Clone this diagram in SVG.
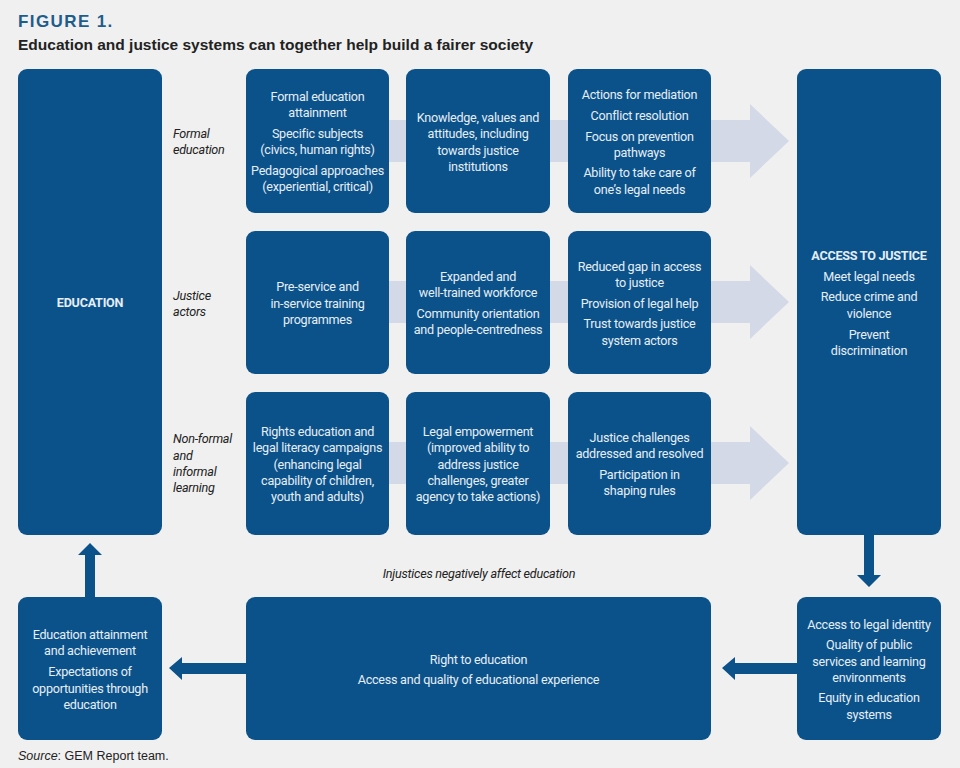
<svg xmlns="http://www.w3.org/2000/svg" width="960" height="768" viewBox="0 0 960 768">
<defs>
<style>
.bg{fill:#f0f0f0}
.box{fill:#0b528a}
.flow{fill:#d3d9e6}
.conn{fill:#0b528a}
.t{font-family:"Roboto","Liberation Sans",sans-serif;font-size:12.6px;letter-spacing:-0.25px;fill:#e6eef6;text-anchor:middle}
.b{font-weight:bold}
.lab{font-family:"Roboto","Liberation Sans",sans-serif;font-size:12.6px;letter-spacing:-0.25px;font-style:italic;fill:#222}
.src{font-family:"Liberation Sans","Roboto",sans-serif;font-size:12.5px;fill:#222}
</style>
</defs>
<rect class="bg" x="0" y="0" width="960" height="768"/>
<text x="18" y="27" font-family="Liberation Sans, Roboto, sans-serif" font-size="17" font-weight="bold" letter-spacing="1.4" fill="#1d5d8c">FIGURE 1.</text>
<text x="18" y="50" font-family="Liberation Sans, Roboto, sans-serif" font-size="15.5" font-weight="bold" fill="#222">Education and justice systems can together help build a fairer society</text>

<g id="flow-arrows">
<path class="flow" d="M380 120 H750 V104 L789 141 L750 178 V162 H380 Z"/>
<path class="flow" d="M380 281 H750 V265 L789 302 L750 339 V323 H380 Z"/>
<path class="flow" d="M380 442 H750 V426 L789 463 L750 500 V484 H380 Z"/>
</g>

<g id="connectors">
<path class="conn" d="M85 597 V555 H78 L90 543 L102 555 H95 V597 Z"/>
<path class="conn" d="M864 535 V575 H857 L869 587 L881 575 H874 V535 Z"/>
<path class="conn" d="M797 663 H735 V657 L722 668 L735 680 V674 H797 Z"/>
<path class="conn" d="M246 663 H182 V657 L169 668 L182 680 V674 H246 Z"/>
</g>

<g id="education">
<rect class="box" x="18" y="69" width="144" height="466" rx="9"/>
<text class="t b" x="90" y="307">EDUCATION</text>
</g>

<g id="row-labels">
<text class="lab" x="173"><tspan x="173" y="138">Formal</tspan><tspan x="173" y="154">education</tspan></text>
<text class="lab" x="173"><tspan x="173" y="300">Justice</tspan><tspan x="173" y="316">actors</tspan></text>
<text class="lab" x="173"><tspan x="173" y="443">Non-formal</tspan><tspan x="173" y="460">and</tspan><tspan x="173" y="476">informal</tspan><tspan x="173" y="492">learning</tspan></text>
</g>

<g id="formal-inputs">
<rect class="box" x="246" y="69" width="143" height="144" rx="9"/>
<text class="t"><tspan x="317.5" y="101">Formal education</tspan><tspan x="317.5" y="117">attainment</tspan><tspan x="317.5" y="138">Specific subjects</tspan><tspan x="317.5" y="154">(civics, human rights)</tspan><tspan x="317.5" y="175">Pedagogical approaches</tspan><tspan x="317.5" y="191">(experiential, critical)</tspan></text>
</g>
<g id="formal-outputs">
<rect class="box" x="406" y="69" width="144" height="144" rx="9"/>
<text class="t"><tspan x="478" y="122">Knowledge, values and</tspan><tspan x="478" y="138">attitudes, including</tspan><tspan x="478" y="155">towards justice</tspan><tspan x="478" y="171">institutions</tspan></text>
</g>
<g id="formal-outcomes">
<rect class="box" x="568" y="69" width="143" height="144" rx="9"/>
<text class="t"><tspan x="639.5" y="99">Actions for mediation</tspan><tspan x="639.5" y="120">Conflict resolution</tspan><tspan x="639.5" y="141">Focus on prevention</tspan><tspan x="639.5" y="157">pathways</tspan><tspan x="639.5" y="177">Ability to take care of</tspan><tspan x="639.5" y="194">one’s legal needs</tspan></text>
</g>

<g id="justice-inputs">
<rect class="box" x="246" y="231" width="143" height="143" rx="9"/>
<text class="t"><tspan x="317.5" y="291">Pre-service and</tspan><tspan x="317.5" y="308">in-service training</tspan><tspan x="317.5" y="324">programmes</tspan></text>
</g>
<g id="justice-outputs">
<rect class="box" x="406" y="231" width="144" height="143" rx="9"/>
<text class="t"><tspan x="478" y="281">Expanded and</tspan><tspan x="478" y="297">well-trained workforce</tspan><tspan x="478" y="318">Community orientation</tspan><tspan x="478" y="334">and people-centredness</tspan></text>
</g>
<g id="justice-outcomes">
<rect class="box" x="568" y="231" width="143" height="143" rx="9"/>
<text class="t"><tspan x="639.5" y="271">Reduced gap in access</tspan><tspan x="639.5" y="287">to justice</tspan><tspan x="639.5" y="308">Provision of legal help</tspan><tspan x="639.5" y="328">Trust towards justice</tspan><tspan x="639.5" y="345">system actors</tspan></text>
</g>

<g id="nonformal-inputs">
<rect class="box" x="246" y="392" width="143" height="143" rx="9"/>
<text class="t"><tspan x="317.5" y="436">Rights education and</tspan><tspan x="317.5" y="452">legal literacy campaigns</tspan><tspan x="317.5" y="469">(enhancing legal</tspan><tspan x="317.5" y="485">capability of children,</tspan><tspan x="317.5" y="501">youth and adults)</tspan></text>
</g>
<g id="nonformal-outputs">
<rect class="box" x="406" y="392" width="144" height="143" rx="9"/>
<text class="t"><tspan x="478" y="436">Legal empowerment</tspan><tspan x="478" y="452">(improved ability to</tspan><tspan x="478" y="469">address justice</tspan><tspan x="478" y="485">challenges, greater</tspan><tspan x="478" y="501">agency to take actions)</tspan></text>
</g>
<g id="nonformal-outcomes">
<rect class="box" x="568" y="392" width="143" height="143" rx="9"/>
<text class="t"><tspan x="639.5" y="442">Justice challenges</tspan><tspan x="639.5" y="458">addressed and resolved</tspan><tspan x="639.5" y="479">Participation in</tspan><tspan x="639.5" y="495">shaping rules</tspan></text>
</g>

<g id="access-to-justice">
<rect class="box" x="797" y="69" width="144" height="466" rx="9"/>
<text class="t"><tspan class="b" x="869" y="260">ACCESS TO JUSTICE</tspan><tspan x="869" y="281">Meet legal needs</tspan><tspan x="869" y="301">Reduce crime and</tspan><tspan x="869" y="318">violence</tspan><tspan x="869" y="339">Prevent</tspan><tspan x="869" y="355">discrimination</tspan></text>
</g>

<text class="lab" x="479" y="578" text-anchor="middle">Injustices negatively affect education</text>

<g id="education-outcomes">
<rect class="box" x="18" y="597" width="144" height="143" rx="9"/>
<text class="t"><tspan x="90" y="639">Education attainment</tspan><tspan x="90" y="655">and achievement</tspan><tspan x="90" y="676">Expectations of</tspan><tspan x="90" y="693">opportunities through</tspan><tspan x="90" y="709">education</tspan></text>
</g>
<g id="right-to-education">
<rect class="box" x="246" y="597" width="465" height="143" rx="9"/>
<text class="t"><tspan x="478.5" y="664">Right to education</tspan><tspan x="478.5" y="684">Access and quality of educational experience</tspan></text>
</g>
<g id="justice-effects">
<rect class="box" x="797" y="597" width="144" height="143" rx="9"/>
<text class="t"><tspan x="869" y="629">Access to legal identity</tspan><tspan x="869" y="649">Quality of public</tspan><tspan x="869" y="666">services and learning</tspan><tspan x="869" y="682">environments</tspan><tspan x="869" y="702">Equity in education</tspan><tspan x="869" y="719">systems</tspan></text>
</g>

<text class="src" x="18" y="760"><tspan font-style="italic">Source</tspan>: GEM Report team.</text>
</svg>
